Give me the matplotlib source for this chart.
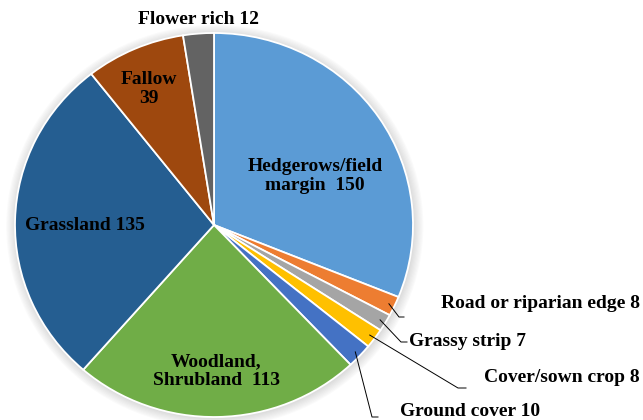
import matplotlib
matplotlib.use('Agg')
import matplotlib.pyplot as plt
import numpy as np
from matplotlib.patches import Circle

plt.rcParams['font.family'] = ['Liberation Serif', 'DejaVu Serif']

# data (clockwise from 12 o'clock)
categories = ['Hedgerows/field\nmargin ', 'Road or riparian edge', 'Grassy strip', 'Cover/sown crop',
              'Ground cover', 'Woodland,\nShrubland ', 'Grassland', 'Fallow\n', 'Flower rich']
counts = [150, 8, 7, 8, 10, 113, 135, 39, 12]
colors = ['#5B9BD5', '#ED7D31', '#A5A5A5', '#FFC000', '#4472C4',
          '#70AD47', '#255E91', '#9E480E', '#636363']

# pie geometry in pixels (center, radii) of a 643x420 figure
W, H = 643, 420
cx, cy, rx, ry = 214, 225, 199, 192

def px(x, y):
    return ((x - cx) / rx, (cy - y) / ry)

fig = plt.figure(figsize=(W / 100, H / 100), dpi=100)
ax = fig.add_axes([0, 0, 1, 1])

# soft glow around the pie
for i in range(8):
    ax.add_patch(Circle((0.004, -0.006), 1.0 + 0.006 * (i + 1), color='#888888',
                        alpha=0.035, lw=0, zorder=0))

wedges, _ = ax.pie(counts, colors=colors, startangle=90, counterclock=False,
                   radius=1.0, wedgeprops=dict(edgecolor='white', linewidth=1.3))
for w in wedges:
    w.set_zorder(2)

ax.set_aspect('auto')
ax.set_xlim(px(0, 0)[0], px(W, 0)[0])
ax.set_ylim(px(0, H)[1], px(0, 0)[1])
ax.axis('off')

fs = 14
# inside / top labels: (index, pixel x, pixel y)
inner_pos = {0: (315, 176), 5: (216, 371), 6: (85, 225), 7: (149, 89), 8: (198, 19)}
for i, (x, y) in inner_pos.items():
    if categories[i].endswith('\n'):
        txt = f'{categories[i]}{counts[i]}'
    else:
        txt = f'{categories[i]} {counts[i]}'
    ax.text(*px(x, y), txt, ha='center', va='center', fontsize=fs, fontweight='bold',
            linespacing=1.1, zorder=5)

# outside labels with leader lines: index -> (elbow x, y, line end x, text x, text y, align)
outer = {1: (399, 317, 404, 640, 304, 'right'),
         2: (401, 342, 407, 409, 341, 'left'),
         3: (458, 388, 466, 640, 378, 'right'),
         4: (372, 417, 378, 400, 411, 'left')}
for i, (ex, ey, lx, tx, ty, ha) in outer.items():
    w = wedges[i]
    mid = np.deg2rad((w.theta1 + w.theta2) / 2)
    ax0, ay0 = 0.97 * np.cos(mid), 0.97 * np.sin(mid)
    e = px(ex, ey)
    l = px(lx, ey)
    ax.plot([ax0, e[0], l[0]], [ay0, e[1], l[1]], color='black', lw=0.7, zorder=4)
    ax.text(*px(tx, ty), f'{categories[i]} {counts[i]}', ha=ha, va='center',
            fontsize=fs, fontweight='bold', zorder=5)

fig.savefig('out.png', dpi=100, facecolor='white')
